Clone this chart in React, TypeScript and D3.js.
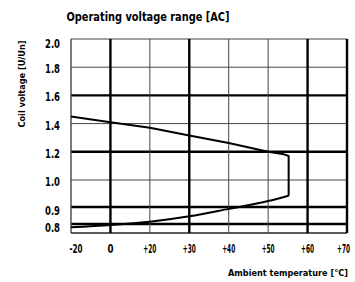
import React from "react";
import * as d3 from "d3";

const xTicks = [-20, 0, 20, 30, 40, 50, 60, 70];
const xTickLabels = ["-20", "0", "+20", "+30", "+40", "+50", "+60", "+70"];
const yTicks = [2.0, 1.8, 1.6, 1.4, 1.2, 1.0, 0.9, 0.8];
const yTickLabels = ["2.0", "1.8", "1.6", "1.4", "1.2", "1.0", "0.9", "0.8"];
const yMin = 0.75;

// upper limit of coil voltage vs temperature
const upperTemp = [-20, 0, 20, 30, 40, 50, 54, 55.2];
const upperVolt = [1.45, 1.41, 1.37, 1.315, 1.262, 1.2, 1.182, 1.17];
// lower limit
const lowerTemp = [55.2, 50, 40, 30, 20, 0, -20];
const lowerVolt = [0.942, 0.922, 0.889, 0.845, 0.813, 0.795, 0.782];

const font = "'Liberation Sans Narrow', 'DejaVu Sans Condensed', 'Roboto Condensed', Arial, sans-serif";

export default function App() {
  const width = 355;
  const height = 282;
  const left = 71, right = 347, top = 39, bottom = 233;

  // evenly spaced columns, one per tick label
  const x = d3
    .scaleLinear()
    .domain(xTicks)
    .range(xTicks.map((d, i) => left + (i * (right - left)) / (xTicks.length - 1)));

  // piecewise y: 1.0..2.0 linear, then 0.9, 0.8 squeezed below
  const y = d3
    .scaleLinear()
    .domain([yMin, 0.8, 0.9, 1.0, 2.0])
    .range([bottom, 224, 207, 180, top]);

  const heavyX = [0, 30, 60, 70];
  const heavyY = [1.6, 1.2, 0.9, 0.8];

  const upper = upperTemp.map((t, i) => [t, upperVolt[i]] as [number, number]);
  const lower = lowerTemp.map((t, i) => [t, lowerVolt[i]] as [number, number]);

  const lineLin = d3
    .line<[number, number]>()
    .x(d => x(d[0]))
    .y(d => y(d[1]));
  const lineSmooth = d3
    .line<[number, number]>()
    .x(d => x(d[0]))
    .y(d => y(d[1]))
    .curve(d3.curveMonotoneX);

  const upperPath = lineLin([...upper, lower[0]]);
  const lowerPath = lineSmooth(lower.slice().reverse());

  const tickLen = (s: string) => (s.length === 1 ? 6 : 13);
  const lastX = xTicks.length - 1;

  return (
    <div style={{ position: "absolute", left: 0, top: 0 }}>
      <svg width={width} height={height} style={{ display: "block", background: "#fff" }}>
        <text
          x={148}
          y={21}
          textAnchor="middle"
          fontFamily={font}
          fontWeight="bold"
          fontSize={12.5}
          textLength={163}
          lengthAdjust="spacingAndGlyphs"
        >
          Operating voltage range [AC]
        </text>

        {/* horizontal grid */}
        {yTicks.map(v => {
          const heavy = heavyY.includes(v);
          return (
            <line
              key={"h" + v}
              x1={left}
              x2={right}
              y1={y(v)}
              y2={y(v)}
              stroke={heavy ? "#000" : "#444"}
              strokeWidth={heavy ? 2.4 : 1}
            />
          );
        })}
        <line x1={left} x2={right} y1={bottom} y2={bottom} stroke="#222" strokeWidth={1.6} />

        {/* vertical grid */}
        {xTicks.map(t => {
          const heavy = heavyX.includes(t);
          return (
            <line
              key={"v" + t}
              x1={x(t)}
              x2={x(t)}
              y1={top}
              y2={bottom}
              stroke={heavy ? "#000" : "#444"}
              strokeWidth={heavy ? 2.4 : t === -20 ? 1.4 : 1}
            />
          );
        })}

        <path d={upperPath || ""} fill="none" stroke="#000" strokeWidth={2} strokeLinejoin="round" />
        <path d={lowerPath || ""} fill="none" stroke="#000" strokeWidth={2} />

        {/* y tick labels */}
        {yTicks.map((v, i) => (
          <text
            key={"yl" + v}
            x={60}
            y={y(v) + (v === 2.0 ? 8.5 : v < 1 ? 8 : 6)}
            textAnchor="end"
            fontFamily={font}
            fontWeight="bold"
            fontSize={12.5}
            textLength={15}
            lengthAdjust="spacingAndGlyphs"
          >
            {yTickLabels[i]}
          </text>
        ))}

        {/* x tick labels */}
        {xTicks.map((t, i) => (
          <text
            key={"xl" + t}
            x={i === 0 ? x(t) + 5 : i === lastX ? 350 : x(t)}
            y={253}
            textAnchor={i === lastX ? "end" : "middle"}
            fontFamily={font}
            fontWeight="bold"
            fontSize={13}
            textLength={tickLen(xTickLabels[i])}
            lengthAdjust="spacingAndGlyphs"
          >
            {xTickLabels[i]}
          </text>
        ))}

        <text
          transform="translate(25,84) rotate(-90)"
          textAnchor="middle"
          fontFamily={font}
          fontWeight="bold"
          fontSize={9}
          textLength={87}
          lengthAdjust="spacingAndGlyphs"
        >
          Coil voltage [U/Un]
        </text>

        <text
          x={348}
          y={276}
          textAnchor="end"
          fontFamily={font}
          fontWeight="bold"
          fontSize={9}
          textLength={120}
          lengthAdjust="spacingAndGlyphs"
        >
          Ambient temperature [°C]
        </text>
      </svg>
    </div>
  );
}
